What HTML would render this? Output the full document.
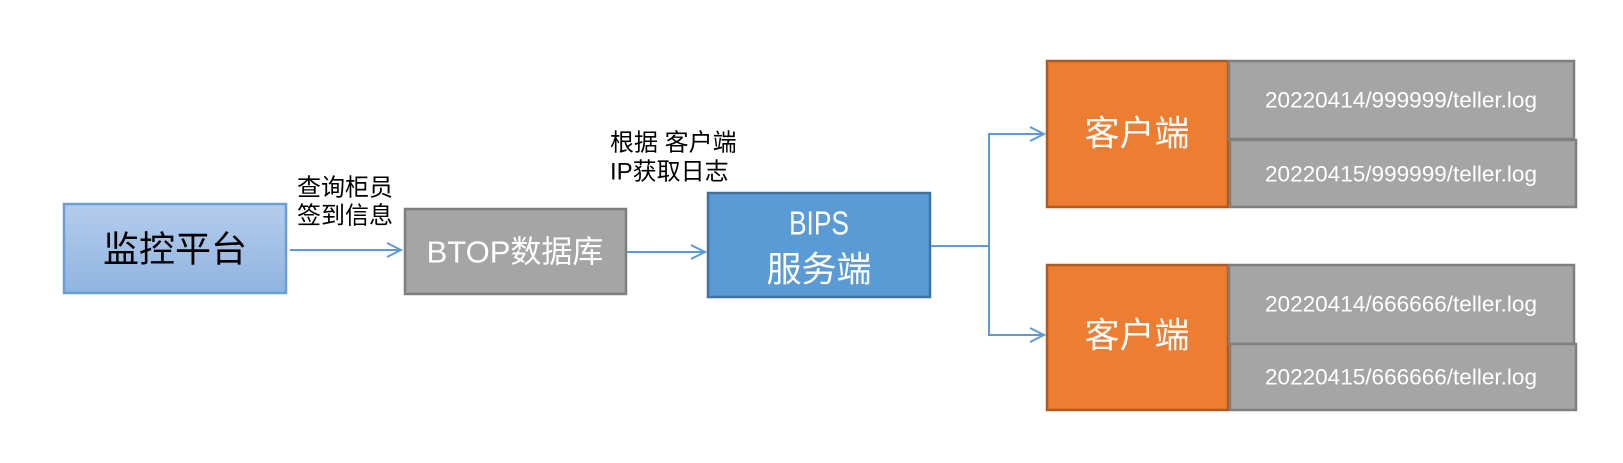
<!DOCTYPE html>
<html>
<head>
<meta charset="utf-8">
<style>
  html, body { margin: 0; padding: 0; background: #ffffff; }
  body { width: 1623px; height: 463px; overflow: hidden; }
  svg { display: block; }
  text { font-family: "Liberation Sans", "Noto Sans CJK SC", sans-serif; }
</style>
</head>
<body>
<svg width="1623" height="463" viewBox="0 0 1623 463" xmlns="http://www.w3.org/2000/svg">
  <defs>
    <linearGradient id="g1" x1="0" y1="0" x2="0" y2="1">
      <stop offset="0" stop-color="#b4cceb"/>
      <stop offset="1" stop-color="#90b4e1"/>
    </linearGradient>
  </defs>

  <!-- 监控平台 -->
  <rect x="64" y="204" width="222" height="89" fill="url(#g1)" stroke="#6a9fd6" stroke-width="2.5"/>
  <text x="175" y="249" font-size="36" fill="#000" text-anchor="middle" dominant-baseline="central">监控平台</text>

  <!-- arrow 1 -->
  <line x1="290" y1="250" x2="401" y2="250" stroke="#5b9bd5" stroke-width="2"/>
  <polyline points="387,243 401,250 387,257" fill="none" stroke="#5b9bd5" stroke-width="2"/>
  <text x="297" y="188" font-size="24" fill="#000" dominant-baseline="central">查询柜员</text>
  <text x="297" y="216" font-size="24" fill="#000" dominant-baseline="central">签到信息</text>

  <!-- BTOP -->
  <rect x="405" y="209" width="221" height="85" fill="#a5a5a5" stroke="#7f7f7f" stroke-width="2.5"/>
  <text x="515" y="252" font-size="31" fill="#fff" text-anchor="middle" dominant-baseline="central">BTOP数据库</text>

  <!-- arrow 2 -->
  <line x1="627" y1="252" x2="705" y2="252" stroke="#5b9bd5" stroke-width="2"/>
  <polyline points="691,245 705,252 691,259" fill="none" stroke="#5b9bd5" stroke-width="2"/>
  <text x="610" y="143" font-size="24" fill="#000" dominant-baseline="central">根据 客户端</text>
  <text x="610" y="172" font-size="24" fill="#000" dominant-baseline="central">IP获取日志</text>

  <!-- BIPS -->
  <rect x="708" y="193" width="222" height="104" fill="#5b9bd5" stroke="#41719c" stroke-width="2.5"/>
  <text x="819" y="223" font-size="33" fill="#fff" text-anchor="middle" dominant-baseline="central" textLength="60" lengthAdjust="spacingAndGlyphs">BIPS</text>
  <text x="819" y="270" font-size="35" fill="#fff" text-anchor="middle" dominant-baseline="central">服务端</text>

  <!-- branching connector -->
  <line x1="931" y1="246" x2="989" y2="246" stroke="#5b9bd5" stroke-width="2"/>
  <line x1="989" y1="133" x2="989" y2="336" stroke="#5b9bd5" stroke-width="2"/>
  <line x1="988" y1="134" x2="1044" y2="134" stroke="#5b9bd5" stroke-width="2"/>
  <polyline points="1030,127 1044,134 1030,141" fill="none" stroke="#5b9bd5" stroke-width="2"/>
  <line x1="988" y1="335" x2="1044" y2="335" stroke="#5b9bd5" stroke-width="2"/>
  <polyline points="1030,328 1044,335 1030,342" fill="none" stroke="#5b9bd5" stroke-width="2"/>

  <!-- Client 1 -->
  <rect x="1047" y="61" width="181" height="146" fill="#ed7d31" stroke="#ae5a21" stroke-width="2.5"/>
  <text x="1137" y="134" font-size="35" fill="#fff" text-anchor="middle" dominant-baseline="central">客户端</text>
  <rect x="1229" y="61" width="345" height="78" fill="#a5a5a5" stroke="#7f7f7f" stroke-width="2.5"/>
  <text x="1401" y="100" font-size="22" fill="#fff" text-anchor="middle" dominant-baseline="central" textLength="272" lengthAdjust="spacingAndGlyphs">20220414/999999/teller.log</text>
  <rect x="1230" y="140" width="346" height="67" fill="#a5a5a5" stroke="#7f7f7f" stroke-width="2.5"/>
  <text x="1401" y="174" font-size="22" fill="#fff" text-anchor="middle" dominant-baseline="central" textLength="272" lengthAdjust="spacingAndGlyphs">20220415/999999/teller.log</text>

  <!-- Client 2 -->
  <rect x="1047" y="265" width="181" height="145" fill="#ed7d31" stroke="#ae5a21" stroke-width="2.5"/>
  <text x="1137" y="336" font-size="35" fill="#fff" text-anchor="middle" dominant-baseline="central">客户端</text>
  <rect x="1229" y="265" width="345" height="79" fill="#a5a5a5" stroke="#7f7f7f" stroke-width="2.5"/>
  <text x="1401" y="304" font-size="22" fill="#fff" text-anchor="middle" dominant-baseline="central" textLength="272" lengthAdjust="spacingAndGlyphs">20220414/666666/teller.log</text>
  <rect x="1230" y="344" width="346" height="66" fill="#a5a5a5" stroke="#7f7f7f" stroke-width="2.5"/>
  <text x="1401" y="377" font-size="22" fill="#fff" text-anchor="middle" dominant-baseline="central" textLength="272" lengthAdjust="spacingAndGlyphs">20220415/666666/teller.log</text>
</svg>
</body>
</html>
